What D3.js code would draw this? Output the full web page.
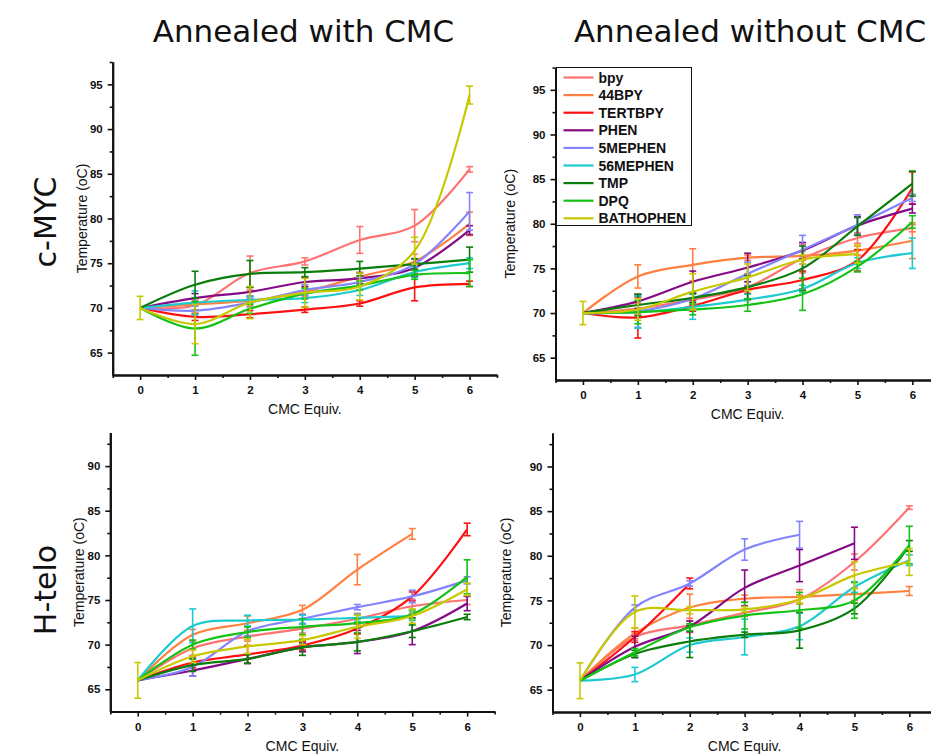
<!DOCTYPE html>
<html lang="en">
  <head>
    <meta charset="UTF-8" />
    <title>Melting temperature vs CMC equivalents</title>
    <script src="https://d3js.org/d3.v7.min.js"></script>
    <style>
      body {
        margin: 0;
        background: #fff;
      }
      text {
        font-family: "Liberation Sans", Arial, sans-serif;
        fill: #111;
      }
      .big {
        font-family: "DejaVu Sans", Verdana, sans-serif;
      }
    </style>
  </head>
  <body>
    <div id="chart"></div>
    <script>
      var equiv = [0, 1, 2, 3, 4, 5, 6];
      var seriesNames = ["bpy", "44BPY", "TERTBPY", "PHEN", "5MEPHEN", "56MEPHEN", "TMP", "DPQ", "BATHOPHEN"];
      var seriesColors = ["#ff7272", "#ff8040", "#ff1010", "#850a85", "#8484ff", "#1ccad0", "#0a7d0a", "#14c214", "#c8c800"];

      // c-MYC, annealed with CMC
      var mycWithCmc = [
        [70, 70.3, 73.9, 75.2, 77.6, 79.2, 85.5],
        [70, 70.4, 70.8, 71.8, 73.5, 75.2, 79.4],
        [70, 69.0, 69.3, 69.8, 70.5, 72.3, 72.7],
        [70, 71.1, 71.8, 72.9, 73.3, 74.5, 78.7],
        [70, 69.7, 70.6, 72.0, 72.9, 74.9, 80.8],
        [70, 70.6, 70.9, 71.1, 72.0, 74.0, 75.0],
        [70, 72.6, 73.8, 74.0, 74.4, 74.9, 75.4],
        [70, 67.7, 69.9, 71.6, 72.5, 73.7, 73.9],
        [70, 68.2, 70.6, 71.7, 72.4, 76.4, 93.8]
      ];
      var mycWithCmcErr = [
        [0, 0.5, 1.9, 0.4, 1.5, 1.8, 0.3],
        [0, 0.6, 0.5, 0.5, 0.5, 0.8, 1.3],
        [0, 0.4, 0.4, 0.3, 0.3, 1.5, 0.3],
        [0, 0.5, 0.5, 0.5, 0.6, 1.0, 0.5],
        [0, 0.5, 0.5, 0.6, 0.5, 0.6, 2.1],
        [0, 1.3, 0.4, 0.5, 0.6, 0.6, 0.6],
        [0, 1.5, 1.5, 0.5, 0.8, 0.6, 1.4],
        [0, 3.0, 0.5, 0.6, 0.5, 0.5, 1.5],
        [1.3, 2.2, 1.8, 1.6, 1.5, 1.5, 1.0]
      ];

      // c-MYC, annealed without CMC
      var mycNoCmc = [
        [70, 70.5, 71.5, 72.9, 76.1, 78.4, 79.5],
        [70, 74.1, 75.4, 76.2, 76.4, 77.0, 78.1],
        [70, 69.5, 70.8, 72.6, 73.7, 75.9, 84.0],
        [70, 71.3, 73.5, 75.1, 77.0, 79.8, 81.7],
        [70, 70.2, 71.6, 74.4, 77.1, 79.9, 82.9],
        [70, 70.1, 70.7, 71.5, 72.7, 75.6, 76.7],
        [70, 70.9, 71.7, 72.9, 75.0, 79.7, 84.5],
        [70, 70.1, 70.4, 70.9, 72.1, 75.2, 80.2],
        [70, 70.4, 72.4, 74.0, 76.0, 76.6]
      ];
      var mycNoCmcErr = [
        [0, 0.6, 0.6, 1.5, 1.6, 0.6, 0.4],
        [0, 1.3, 1.8, 0.3, 0.5, 0.5, 2.0],
        [0, 2.3, 0.6, 0.4, 1.0, 1.2, 1.8],
        [0, 0.8, 1.2, 1.6, 0.9, 1.0, 0.5],
        [0, 1.8, 0.6, 1.3, 1.6, 1.1, 0.4],
        [0, 1.8, 1.4, 0.6, 0.4, 0.6, 1.7],
        [0, 1.2, 0.5, 1.3, 2.5, 1.0, 1.4],
        [0, 1.3, 0.6, 0.7, 1.8, 0.6, 0.7],
        [1.3, 1.2, 2.0, 1.5, 0.5, 1.0]
      ];

      // H-telo, annealed with CMC
      var teloWithCmc = [
        [66, 69.6, 70.9, 71.8, 72.9, 74.3, 75.0],
        [66, 71.1, 72.4, 73.9, 78.4, 82.4],
        [66, 68.0, 68.9, 69.9, 71.8, 75.4, 82.9],
        [66, 67.1, 68.4, 69.7, 70.3, 71.5, 74.6],
        [66, 67.5, 71.5, 72.9, 74.2, 75.4, 77.2],
        [66, 72.1, 72.7, 72.8, 73.0, 73.2],
        [66, 67.7, 68.4, 69.7, 70.3, 71.5, 73.1],
        [66, 70.0, 71.4, 72.0, 72.4, 73.4, 77.6],
        [66, 68.7, 69.8, 70.5, 72.0, 73.2, 76.2]
      ];
      var teloWithCmcErr = [
        [0, 0.8, 0.5, 0.5, 0.6, 0.8, 0.5],
        [0, 0.6, 0.8, 0.5, 1.7, 0.6],
        [0, 0.6, 1.0, 0.5, 0.6, 0.5, 0.7],
        [0, 0.6, 0.5, 0.5, 1.3, 1.5, 0.8],
        [0, 1.0, 0.5, 0.5, 0.3, 0.7, 0.4],
        [0, 1.9, 0.6, 0.5, 0.4, 0.5],
        [0, 0.7, 0.5, 0.9, 1.0, 0.7, 0.3],
        [0, 0.5, 0.6, 0.9, 0.5, 0.5, 1.9],
        [2.0, 0.7, 0.8, 0.5, 1.3, 0.8, 0.7]
      ];

      // H-telo, annealed without CMC
      var teloNoCmc = [
        [66, 70.9, 72.2, 73.6, 75.1, 79.3, 85.4],
        [66, 71.3, 74.2, 75.2, 75.4, 75.7, 76.05],
        [66, 70.9, 76.9],
        [66, 69.8, 72.1, 76.4, 78.9, 81.4],
        [66, 74.2, 76.9, 80.7, 82.35],
        [66, 66.7, 70.0, 70.9, 72.1, 76.5, 79.5],
        [66, 69.0, 70.4, 71.15, 71.65, 74.1, 81.1],
        [66, 69.2, 72.0, 73.3, 73.9, 75.0, 81.2],
        [66, 73.7, 73.9, 74.0, 75.1, 77.8, 79.3]
      ];
      var teloNoCmcErr = [
        [0, 0.4, 0.8, 0.4, 0.5, 0.9, 0.2],
        [0, 0.6, 1.5, 0.4, 0.8, 0.7, 0.5],
        [0, 0.6, 0.6],
        [0, 1.2, 0.6, 2.0, 1.8, 1.8],
        [0, 0.3, 0.3, 1.2, 1.5],
        [0, 0.8, 0.8, 2.0, 1.5, 0.6, 0.6],
        [0, 0.4, 1.8, 0.3, 2.0, 0.6, 0.6],
        [0, 0.4, 0.4, 1.5, 2.0, 2.0, 2.1],
        [2.0, 1.8, 0.4, 0.3, 0.4, 1.5, 1.5]
      ];

      var yTicksTop = [65, 70, 75, 80, 85, 90, 95];
      var yTicksBottom = [65, 70, 75, 80, 85, 90];

      var W = 931, H = 756, unit = 54.9;

      var svg = d3.select("#chart").append("svg").attr("width", W).attr("height", H);

      var panels = [
        { vals: mycWithCmc, errs: mycWithCmcErr, left: 112.7, top: 62, bottom: 375, yDomain: [62.5, 97.5], yTicks: yTicksTop, titleGap: 26 },
        { vals: mycNoCmc, errs: mycNoCmcErr, left: 555.5, top: 67.5, bottom: 380, yDomain: [62.5, 97.5], yTicks: yTicksTop, titleGap: 41, legend: true },
        { vals: teloWithCmc, errs: teloWithCmcErr, left: 110.3, top: 432.6, bottom: 711.6, yDomain: [62.5, 93.75], yTicks: yTicksBottom, titleGap: 26 },
        { vals: teloNoCmc, errs: teloNoCmcErr, left: 552.5, top: 433, bottom: 712, yDomain: [62.5, 93.75], yTicks: yTicksBottom, titleGap: 42 }
      ];

      function minorTicks(lo, hi, step) {
        var out = [];
        for (var v = lo; v <= hi + 1e-9; v += step) out.push(v);
        return out;
      }

      function drawPanel(p) {
        var x = d3.scaleLinear().domain([-0.5, 6.5]).range([p.left, p.left + 7 * unit]);
        var y = d3.scaleLinear().domain(p.yDomain).range([p.bottom, p.top]);
        var g = svg.append("g");

        // minor ticks
        g.append("g")
          .attr("transform", "translate(0," + p.bottom + ")")
          .call(d3.axisBottom(x).tickValues(minorTicks(-0.5, 6.5, 1)).tickSize(3).tickSizeOuter(0).tickFormat(""));
        g.append("g")
          .attr("transform", "translate(" + p.left + ",0)")
          .call(d3.axisLeft(y).tickValues(minorTicks(p.yDomain[0] + 5, p.yDomain[1], 5)).tickSize(3).tickSizeOuter(0).tickFormat(""));

        // major ticks + labels
        g.append("g")
          .attr("transform", "translate(0," + p.bottom + ")")
          .call(d3.axisBottom(x).tickValues(equiv).tickSize(5).tickSizeOuter(0).tickPadding(6).tickFormat(d3.format("d")));
        g.append("g")
          .attr("transform", "translate(" + p.left + ",0)")
          .call(d3.axisLeft(y).tickValues(p.yTicks).tickSize(5).tickSizeOuter(0).tickPadding(5).tickFormat(d3.format("d")));

        g.selectAll(".domain").attr("stroke", "#111").attr("stroke-width", 2);
        g.selectAll(".tick line").attr("stroke", "#111").attr("stroke-width", 1.6);
        g.selectAll(".tick text")
          .attr("font-size", 11.5)
          .attr("font-weight", "bold")
          .attr("font-family", "Liberation Sans, Arial, sans-serif")
          .attr("fill", "#111");

        // axis titles
        g.append("text")
          .attr("x", x(3))
          .attr("y", p.bottom + 39)
          .attr("text-anchor", "middle")
          .attr("font-size", 14)
          .text("CMC Equiv.");
        g.append("text")
          .attr("transform", "translate(" + (p.left - p.titleGap) + "," + (p.top + p.bottom) / 2 + ") rotate(-90)")
          .attr("text-anchor", "middle")
          .attr("font-size", 14)
          .text("Temperature (oC)");

        var line = d3.line()
          .x(function (d) { return x(d.x); })
          .y(function (d) { return y(d.y); })
          .curve(d3.curveCatmullRom.alpha(0.5));

        p.vals.forEach(function (vals, s) {
          var color = seriesColors[s];
          var pts = vals.map(function (v, i) { return { x: equiv[i], y: v, e: p.errs[s][i] }; });
          var sg = g.append("g");
          sg.append("path")
            .datum(pts)
            .attr("fill", "none")
            .attr("stroke", color)
            .attr("stroke-width", 2.2)
            .attr("d", line);

          var bars = sg.selectAll(".eb")
            .data(pts.filter(function (d) { return d.e > 0; }))
            .enter()
            .append("g")
            .attr("stroke", color)
            .attr("stroke-width", 1.6);
          bars.append("line")
            .attr("x1", function (d) { return x(d.x); })
            .attr("x2", function (d) { return x(d.x); })
            .attr("y1", function (d) { return y(d.y - d.e); })
            .attr("y2", function (d) { return y(d.y + d.e); });
          bars.append("line")
            .attr("x1", function (d) { return x(d.x) - 3.5; })
            .attr("x2", function (d) { return x(d.x) + 3.5; })
            .attr("y1", function (d) { return y(d.y + d.e); })
            .attr("y2", function (d) { return y(d.y + d.e); });
          bars.append("line")
            .attr("x1", function (d) { return x(d.x) - 3.5; })
            .attr("x2", function (d) { return x(d.x) + 3.5; })
            .attr("y1", function (d) { return y(d.y - d.e); })
            .attr("y2", function (d) { return y(d.y - d.e); });
        });

        if (p.legend) {
          var lg = g.append("g").attr("transform", "translate(" + (p.left + 1) + "," + (p.top) + ")");
          lg.append("rect")
            .attr("width", 135)
            .attr("height", 158)
            .attr("fill", "#fff")
            .attr("stroke", "#111")
            .attr("stroke-width", 1);
          seriesNames.forEach(function (name, s) {
            var ry = 10 + s * 17.6;
            lg.append("line")
              .attr("x1", 7).attr("x2", 37)
              .attr("y1", ry).attr("y2", ry)
              .attr("stroke", seriesColors[s])
              .attr("stroke-width", 2.2);
            lg.append("text")
              .attr("x", 42)
              .attr("y", ry + 5)
              .attr("font-size", 14)
              .attr("font-weight", "bold")
              .text(name);
          });
        }
      }

      panels.forEach(drawPanel);

      // column titles
      svg.append("text").attr("class", "big")
        .attr("x", 303.5).attr("y", 42)
        .attr("text-anchor", "middle")
        .attr("font-size", 31)
        .text("Annealed with CMC");
      svg.append("text").attr("class", "big")
        .attr("x", 750).attr("y", 42)
        .attr("text-anchor", "middle")
        .attr("font-size", 31)
        .text("Annealed without CMC");

      // row labels
      svg.append("text").attr("class", "big")
        .attr("transform", "translate(56,222) rotate(-90)")
        .attr("text-anchor", "middle")
        .attr("font-size", 30)
        .text("c-MYC");
      svg.append("text").attr("class", "big")
        .attr("transform", "translate(56,590) rotate(-90)")
        .attr("text-anchor", "middle")
        .attr("font-size", 30)
        .text("H-telo");
    </script>
  </body>
</html>
